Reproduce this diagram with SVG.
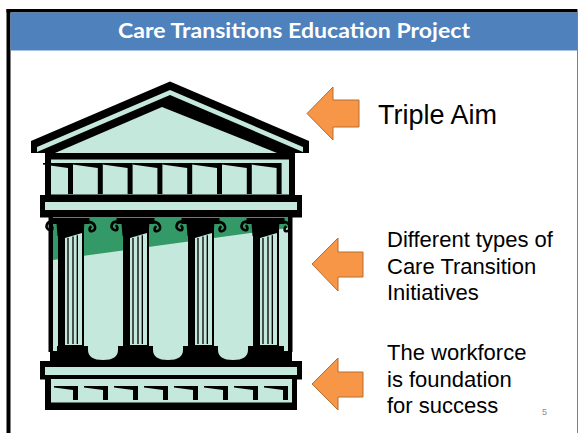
<svg xmlns="http://www.w3.org/2000/svg" width="578" height="433" viewBox="0 0 578 433">
  <defs>
    <style>
      .ink { fill: #000; }
      .mint { fill: #C5E8DD; }
      .flute { stroke: #000; stroke-width: 1.3; fill: none; }
      .curl { stroke: #000; stroke-width: 2.6; fill: none; stroke-linecap: round; }
      .arrow { fill: #F79646; stroke: #B66D31; stroke-width: 1; stroke-linejoin: miter; }
      .label { font-family: "Liberation Sans", Arial, sans-serif; fill: #000; }
    </style>
    <!-- one frieze dentil: wedge top and post -->
    <path id="dentil-top" d="M-25,163 L5,163 L5,194 L0,194 L0,168 L-25,164.6 Z"/>
    <path id="dentil-bottom" d="M-19,386 L5,386 L5,400 L0,400 L0,390 L-19,387.6 Z"/>
    <!-- one column: capital, volutes and fluted shaft, centred on x=0 -->
    <g id="column">
      <rect x="-19" y="218" width="38" height="6" class="ink"/>
      <path class="ink" d="M-14,223 L14,223 L13,232 L-13,236 Z"/>
      <path class="curl" d="M-16,222 C-25,220 -26,229 -21,230 C-18,231 -17,228 -19,226"/>
      <path class="curl" d="M16,222 C25,221 27,230 22,231 C19,232 18,229 20,227"/>
      <path class="ink" d="M-12.5,230 L13.5,226 L13.5,347 L-12.5,347 Z"/>
      <path class="mint" d="M-5.5,238 L11.5,233 L11.5,345 L-5.5,345 Z"/>
      <line class="flute" x1="-2.5" y1="238" x2="-2.5" y2="344"/>
      <line class="flute" x1="2.5" y1="236.5" x2="2.5" y2="344"/>
      <line class="flute" x1="6.8" y1="235.3" x2="6.8" y2="344"/>
    </g>
  </defs>

  <!-- slide frame and title bar -->
  <rect x="0" y="0" width="578" height="433" fill="#fff"/>
  <rect x="6.5" y="9" width="571" height="3.5" fill="#000"/>
  <rect x="6.5" y="9" width="4" height="424" fill="#000"/>
  <line x1="577.5" y1="12" x2="577.5" y2="433" stroke="#808080" stroke-width="1"/>
  <rect id="title-bar" x="10.5" y="12.5" width="566.5" height="38" fill="#4F81BD"/>
  <text x="294" y="37.5" text-anchor="middle" font-family="Lato, 'Liberation Sans', sans-serif" font-weight="bold" font-size="20" fill="#fff" textLength="352" lengthAdjust="spacingAndGlyphs">Care Transitions Education Project</text>

  <!-- temple -->
  <g id="temple">
    <!-- roof -->
    <path class="ink" d="M31,141 L170,81.5 L309,141 L309,153 L31,153 Z"/>
    <path class="mint" d="M37,147 L170,90 L303,147 L303,152 L170,95 L37,152 Z"/>
    <path class="mint" d="M55,153 L162,107 L277,153 Z"/>

    <!-- frieze with dentils -->
    <rect x="45" y="153" width="250" height="43" class="ink"/>
    <rect x="51" y="159.5" width="238" height="35" class="mint"/>
    <g class="ink">
      <use href="#dentil-top" x="68"/>
      <use href="#dentil-top" x="97.8"/>
      <use href="#dentil-top" x="127.6"/>
      <use href="#dentil-top" x="157.4"/>
      <use href="#dentil-top" x="187.2"/>
      <use href="#dentil-top" x="217"/>
      <use href="#dentil-top" x="246.8"/>
      <use href="#dentil-top" x="276.6"/>
    </g>

    <!-- cornice -->
    <rect x="40" y="195" width="262" height="22.5" class="ink"/>
    <rect x="45" y="202" width="252" height="8" class="mint"/>

    <!-- colonnade backdrop -->
    <rect x="48.5" y="217" width="244" height="135" class="ink"/>
    <rect x="53" y="217" width="235" height="135" class="mint"/>
    <path d="M53,217 L288,217 L288,228 L53,260 Z" fill="#339966"/>

    <!-- columns -->
    <use href="#column" x="70.5"/>
    <use href="#column" x="135.5"/>
    <use href="#column" x="200.5"/>
    <use href="#column" x="265.5"/>

    <!-- column bases -->
    <rect x="50" y="346" width="242" height="16" class="ink"/>
    <rect x="53" y="340" width="4" height="11" class="mint"/>
    <rect x="284" y="340" width="4" height="11" class="mint"/>
    <path class="mint" d="M88,340 L88,350 Q88,360 103,360 Q118,360 118,350 L118,340 Z"/>
    <path class="mint" d="M153,340 L153,350 Q153,360 168,360 Q183,360 183,350 L183,340 Z"/>
    <path class="mint" d="M218,340 L218,350 Q218,360 233,360 Q248,360 248,350 L248,340 Z"/>

    <!-- lower bar -->
    <rect x="40" y="361" width="262" height="18.5" class="ink"/>
    <rect x="45" y="367" width="252" height="8" class="mint"/>

    <!-- stylobate with dentils -->
    <rect x="45" y="379" width="252" height="31" class="ink"/>
    <rect x="51" y="379" width="241" height="23.5" class="mint"/>
    <g class="ink">
      <use href="#dentil-bottom" x="73"/>
      <use href="#dentil-bottom" x="103"/>
      <use href="#dentil-bottom" x="133"/>
      <use href="#dentil-bottom" x="163"/>
      <use href="#dentil-bottom" x="193"/>
      <use href="#dentil-bottom" x="223"/>
      <use href="#dentil-bottom" x="253"/>
      <use href="#dentil-bottom" x="283"/>
    </g>
  </g>

  <!-- pointers -->
  <g id="connectors">
    <path class="arrow" d="M307,113.5 L333,87 L333,100 L359,100 L359,127 L333,127 L333,140 Z"/>
    <path class="arrow" d="M312,264 L338,238 L338,252 L363,252 L363,277 L338,277 L338,291 Z"/>
    <path class="arrow" d="M312,384 L338,358 L338,372 L363,372 L363,397 L338,397 L338,410 Z"/>
  </g>

  <g id="label-aim">
    <text class="label" x="378" y="124" font-size="27">Triple Aim</text>
  </g>
  <g id="label-initiatives" class="label" font-size="22">
    <text class="label" x="387" y="247">Different types of</text>
    <text class="label" x="387" y="273.5">Care Transition</text>
    <text class="label" x="387" y="300">Initiatives</text>
  </g>
  <g id="label-workforce">
    <text class="label" x="387" y="360" font-size="22">The workforce</text>
    <text class="label" x="387" y="386.5" font-size="22">is foundation</text>
    <text class="label" x="387" y="413" font-size="22">for success</text>
  </g>
  <text x="542" y="415" font-family="'Liberation Sans', Arial, sans-serif" font-size="9" fill="#8c8c8c">5</text>
</svg>
